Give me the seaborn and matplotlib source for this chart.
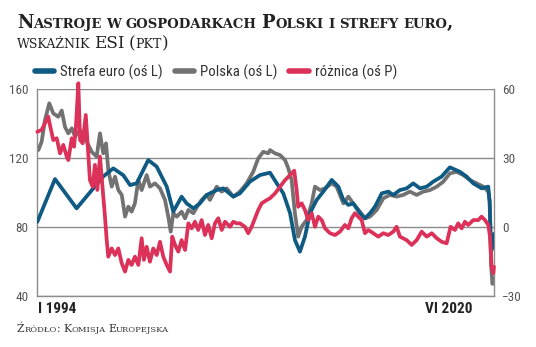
import numpy as np
import pandas as pd
import matplotlib
matplotlib.use("Agg")
import matplotlib.pyplot as plt
import seaborn as sns
from matplotlib import font_manager
from matplotlib.lines import Line2D
from matplotlib.transforms import IdentityTransform

# ---------------- data ----------------
t_euro = [1994.02, 1995.04, 1996.29, 1997.82, 1998.41, 1998.99, 1999.38, 1999.76,
          2000.43, 2000.92, 2001.50, 2001.88, 2002.36, 2002.65, 2003.04, 2003.42,
          2003.81, 2004.39, 2004.77, 2005.35, 2005.73, 2006.31, 2006.89, 2007.47,
          2007.86, 2008.24, 2008.63, 2008.91, 2009.20, 2009.49, 2009.78, 2010.17,
          2010.55, 2011.04, 2011.42, 2011.71, 2012.00, 2012.28, 2012.67, 2012.96,
          2013.25, 2013.54, 2013.93, 2014.31, 2014.60, 2014.98, 2015.37, 2015.75,
          2016.14, 2016.53, 2016.91, 2017.39, 2017.87, 2018.45, 2018.84, 2019.22,
          2019.71, 2020.09, 2020.17, 2020.25, 2020.33, 2020.42]
v_euro = [83, 107.8, 90.8, 109.2, 114, 110, 104.3, 105.3,
          118.8, 115, 103.4, 88.9, 97.6, 93.7, 90.8, 93.7,
          98.6, 101.4, 102.4, 97.6, 99.5, 106.3, 110.1, 111.5,
          105.3, 99.5, 88, 72.5, 65.7, 74.4, 88, 95.7,
          100.5, 107.3, 103.4, 95.7, 92.8, 93.7, 88, 85,
          88, 91.8, 99.5, 100.5, 98.6, 101.4, 102.4, 105.3,
          102.4, 103.4, 106.3, 109.2, 114.6, 112, 109.2, 105.3,
          102.4, 103.4, 94, 66, 68, 76]

t_pl = [1994.08, 1994.27, 1994.46, 1994.71, 1994.94, 1995.23, 1995.43, 1995.62,
        1995.81, 1996.01, 1996.20, 1996.49, 1996.77, 1996.97, 1997.16, 1997.45,
        1997.64, 1997.83, 1997.99, 1998.12, 1998.32, 1998.51, 1998.70, 1998.90,
        1999.09, 1999.28, 1999.47, 1999.66, 1999.86, 2000.05, 2000.34, 2000.53,
        2000.82, 2001.11, 2001.40, 2001.59, 2001.73, 2001.88, 2002.08, 2002.36,
        2002.56, 2002.75, 2003.04, 2003.32, 2003.52, 2003.81, 2004.00, 2004.39,
        2004.68, 2004.97, 2005.35, 2005.73, 2006.12, 2006.50, 2006.79, 2007.08,
        2007.37, 2007.47, 2007.76, 2008.05, 2008.34, 2008.53, 2008.72, 2008.91,
        2009.10, 2009.30, 2009.59, 2009.88, 2010.07, 2010.36, 2010.65, 2011.04,
        2011.32, 2011.71, 2012.00, 2012.28, 2012.67, 2012.96, 2013.25, 2013.64,
        2014.02, 2014.41, 2014.79, 2015.17, 2015.56, 2015.95, 2016.33, 2016.72,
        2017.11, 2017.49, 2017.87, 2018.26, 2018.64, 2019.03, 2019.42, 2019.80,
        2020.09, 2020.17, 2020.25, 2020.33, 2020.42]
v_pl = [124.6, 129.5, 142, 151.7, 145.9, 143.9, 147.5, 138,
        134.3, 137.2, 132.4, 136.2, 131.4, 127.5, 123.6, 120.8,
        134.3, 122.7, 128.5, 113, 103.4, 109.2, 101.4, 98.6,
        86, 91.8, 88.9, 93.7, 107.2, 101.4, 110.1, 103.4,
        105.3, 102.4, 95.7, 86, 77.3, 88, 86, 88.9,
        85, 89.9, 88, 92.8, 95.7, 98.6, 95.7, 103.4,
        100.5, 102.4, 97.6, 100.5, 105.3, 112, 119.8, 123.6,
        122.7, 124.6, 122.7, 121.7, 118.8, 114, 107.2, 88,
        74.4, 80.2, 84.1, 93.7, 103.4, 101.4, 102.4, 105.3,
        103.4, 93.7, 97.6, 93.7, 88.9, 85, 86, 89.9,
        96.6, 98.6, 97.6, 98.6, 100.5, 98.6, 100.5, 101.4,
        103.4, 106.3, 111.1, 112, 110.1, 107.2, 105.3, 103.4,
        100.5, 95, 58, 47, 50]

t_diff = [1994.02, 1994.27, 1994.46, 1994.65, 1994.75, 1994.94, 1995.14, 1995.33,
          1995.52, 1995.72, 1995.81, 1996.01, 1996.14, 1996.25, 1996.39, 1996.49,
          1996.64, 1996.82, 1996.91, 1997.06, 1997.22, 1997.35, 1997.49, 1997.64,
          1997.77, 1997.93, 1998.03, 1998.12, 1998.32, 1998.51, 1998.70, 1998.90,
          1999.09, 1999.28, 1999.47, 1999.66, 1999.86, 2000.05, 2000.18, 2000.34,
          2000.53, 2000.72, 2000.92, 2001.11, 2001.30, 2001.50, 2001.69, 2001.82,
          2001.98, 2002.17, 2002.36, 2002.56, 2002.75, 2002.94, 2003.13, 2003.32,
          2003.52, 2003.71, 2003.90, 2004.10, 2004.29, 2004.48, 2004.68, 2004.87,
          2005.16, 2005.35, 2005.54, 2005.73, 2006.02, 2006.21, 2006.41, 2006.60,
          2006.79, 2006.99, 2007.28, 2007.47, 2007.76, 2008.05, 2008.34, 2008.63,
          2008.87, 2009.01, 2009.10, 2009.30, 2009.49, 2009.68, 2009.88, 2010.07,
          2010.26, 2010.46, 2010.65, 2010.94, 2011.23, 2011.52, 2011.80, 2012.00,
          2012.19, 2012.38, 2012.57, 2012.77, 2012.96, 2013.15, 2013.44, 2013.73,
          2014.02, 2014.31, 2014.60, 2014.79, 2014.98, 2015.37, 2015.66, 2015.95,
          2016.24, 2016.53, 2016.82, 2017.11, 2017.39, 2017.68, 2017.91, 2018.16,
          2018.35, 2018.55, 2018.74, 2018.93, 2019.22, 2019.51, 2019.70, 2019.90,
          2020.09, 2020.19, 2020.28, 2020.38, 2020.42]
v_diff = [41.4, 42.2, 45.1, 48, 44.3, 37.8, 38.6, 32,
          35.7, 30.6, 29.1, 38.6, 34.9, 43.6, 62.5, 37.8,
          36.4, 48.7, 37.8, 20.4, 17.5, 27, 16.1, 30.6,
          19, 4.5, -5.7, -12.9, -9.3, -12.2, -9.3, -15.8,
          -19.4, -14.3, -16.5, -12.9, -16.5, -4.9, -14.3, -8.6,
          -15.1, -9.3, -12.2, -6.4, -12.9, -16.5, -19.4, -4.2,
          -7.8, -10.7, -5.7, -10, 1.6, -0.6, 2.3, -1.3,
          3, -3.5, 0.9, -4.9, 1.6, 3.8, -1.3, 2.3,
          0.1, 2.3, 1.6, 1.6, 0.1, -2.7, 0.1, 3.8,
          7.4, 10.3, 11.7, 12.5, 14.6, 17.5, 20.4, 22.6,
          24.5, 16.1, 8.8, 10.3, 7.4, 3, 6, 0.1,
          4.5, 3, -0.6, -2.7, -3.5, -2.0, 0.9, -0.6,
          3.8, 6, 4.5, 3, -2.7, -1.3, -2.7, -4.2,
          -2.7, -3.5, -2.0, 0.1, -4.2, -5.7, -7.8, -5.7,
          -2.0, -4.2, -2.7, -4.9, -6.4, -7.1, 0.1, -1.3,
          1.6, -0.6, 2.3, 0.9, 3, 3, 4.5, 3,
          0.9, -4.2, -17.3, -20.1, -17.3]

left_ticks = [40, 80, 120, 160]
right_ticks = [-30, 0, 30, 60]
series_labels = ["Strefa euro (oś L)", "Polska (oś L)", "różnica (oś P)"]
x_first_label = "I 1994"
x_last_label = "VI 2020"
title_1 = "Nastroje w gospodarkach Polski i strefy euro,"
title_2 = "wskaźnik ESI (pkt)"
source = "Źródło: Komisja Europejska"

BLUE = "#0f5a82"
GRAY = "#727272"
RED = "#dc3259"
GRID = "#8c8c8c"

# ---------------- fonts ----------------
sns.set_style("white")
fm = font_manager.fontManager
names = {f.name for f in fm.ttflist}
cond = None
stretch = "normal"
for cand in ["Roboto Condensed", "Liberation Sans Narrow", "Open Sans Condensed",
             "DejaVu Sans Condensed"]:
    if cand in names:
        cond = cand
        break
if cond is None:
    if any(f.name == "DejaVu Sans" and str(f.stretch) != "normal" for f in fm.ttflist):
        cond = "DejaVu Sans"
        stretch = "condensed"
    else:
        cond = "Roboto"
plt.rcParams["font.family"] = [cond, "DejaVu Sans"]
plt.rcParams["font.stretch"] = stretch
SERIF = ["DejaVu Serif"]

# ---------------- figure ----------------
fig = plt.figure(figsize=(5.36, 3.47), dpi=100)
ax = fig.add_axes([37 / 536, 51 / 347, 457 / 536, 207 / 347])

df_euro = pd.DataFrame({"t": t_euro, "v": v_euro})
df_pl = pd.DataFrame({"t": t_pl, "v": v_pl})
df_diff = pd.DataFrame({"t": t_diff, "v": v_diff})

sns.lineplot(data=df_pl, x="t", y="v", ax=ax, color=GRAY, lw=2.7, zorder=2)
sns.lineplot(data=df_euro, x="t", y="v", ax=ax, color=BLUE, lw=2.7, zorder=3)
ax2 = ax.twinx()
sns.lineplot(data=df_diff, x="t", y="v", ax=ax2, color=RED, lw=2.7, clip_on=False)

ax.set_xlim(1994.0, 2020.42)
ax.set_ylim(40, 160)
ax2.set_ylim(-30, 60)
ax.set_yticks(left_ticks)
ax2.set_yticks(right_ticks)
ax.set_xticks([])
for a in (ax, ax2):
    a.set_xlabel("")
    a.set_ylabel("")
ax.grid(axis="y", color=GRID, lw=1.0)
ax.grid(axis="x", visible=False)
ax.set_axisbelow(True)
for s in ("left", "right", "bottom"):
    ax.spines[s].set_visible(True)
    ax.spines[s].set_color(GRID)
    ax.spines[s].set_linewidth(1.0)
ax.spines["top"].set_visible(False)
for s in ax2.spines.values():
    s.set_visible(False)
ax.tick_params(axis="y", length=0, pad=6, labelsize=9.5, labelcolor="#555555")
ax2.tick_params(axis="y", length=0, pad=6, labelsize=9.5, labelcolor="#555555")

ax.text(0.003, -0.03, x_first_label, transform=ax.transAxes, ha="left", va="top",
        fontsize=11, fontweight="bold", color="#222222")
ax.text(0.952, -0.03, x_last_label, transform=ax.transAxes, ha="right", va="top",
        fontsize=11, fontweight="bold", color="#222222")

handles = [Line2D([], [], color=c, lw=4, solid_capstyle="round") for c in (BLUE, GRAY, RED)]
fig.legend(handles, series_labels, loc="center left", bbox_to_anchor=(35 / 536, 1 - 72 / 347),
           ncol=3, frameon=False, handlelength=1.3, handletextpad=0.4, columnspacing=0.8,
           borderpad=0, borderaxespad=0, fontsize=10.7, labelcolor="#333333")

# ---------------- small-caps titles ----------------
renderer = fig.canvas.get_renderer()


def text_width(s, size, weight):
    t = fig.text(0, 0, s, fontsize=size, family=SERIF, weight=weight, stretch="normal")
    w = t.get_window_extent(renderer).width
    t.remove()
    return w


def small_caps(x, y, text, big, small, weight, color):
    space = text_width("A A", small, weight) - text_width("AA", small, weight)
    cx = x
    for wi, word in enumerate(text.split(" ")):
        if wi:
            cx += space
        runs = []
        for ch in word:
            sm = ch.islower()
            if runs and runs[-1][1] == sm:
                runs[-1][0] += ch
            else:
                runs.append([ch, sm])
        for s, sm in runs:
            t = fig.text(cx, y, s.upper() if sm else s, fontsize=small if sm else big,
                         family=SERIF, weight=weight, color=color, stretch="normal",
                         transform=IdentityTransform(), ha="left", va="baseline")
            cx += t.get_window_extent(renderer).width


small_caps(17, 347 - 28, title_1, 13.0, 9.5, "bold", "#222222")
small_caps(17, 347 - 48, title_2, 12.2, 9.0, "normal", "#222222")
small_caps(17, 347 - 332, source, 7.8, 6.0, "normal", "#333333")

fig.savefig("out.png", dpi=100)
